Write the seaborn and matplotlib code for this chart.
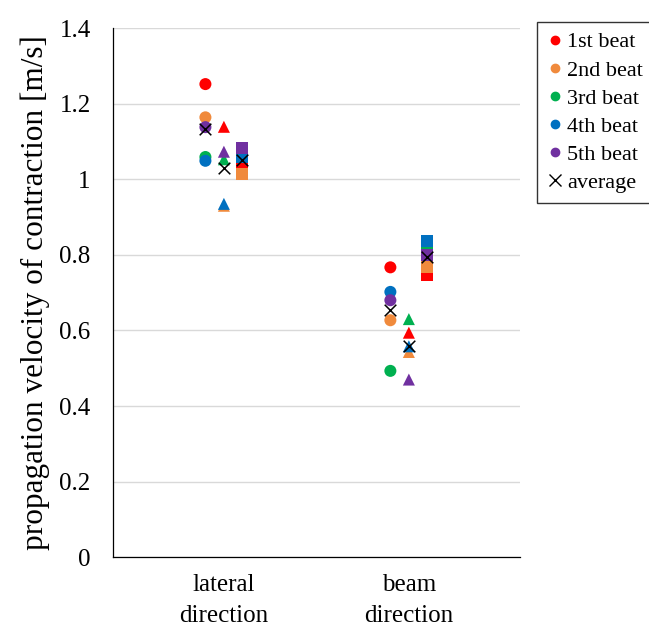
import matplotlib
matplotlib.use("Agg")
import matplotlib.pyplot as plt
import seaborn as sns
import pandas as pd
from matplotlib.lines import Line2D

# ---- data ----
categories = ["lateral\ndirection", "beam\ndirection"]
groups = ["circle", "triangle", "square"]          # three measurements per direction
beats = ["1st beat", "2nd beat", "3rd beat", "4th beat", "5th beat"]

# values ordered [lateral circle, lateral triangle, lateral square, beam circle, beam triangle, beam square]
beat1 = [1.252, 1.139, 1.035, 0.767, 0.594, 0.746]
beat2 = [1.164, 0.930, 1.013, 0.627, 0.543, 0.768]
beat3 = [1.059, 1.053, 1.068, 0.493, 0.630, 0.817]
beat4 = [1.049, 0.935, 1.060, 0.702, 0.558, 0.837]
beat5 = [1.138, 1.073, 1.084, 0.680, 0.470, 0.799]
average = [1.133, 1.029, 1.052, 0.654, 0.558, 0.795]

colors = ["#FF0000", "#F08A3C", "#00B050", "#0070C0", "#7030A0"]
markers = {"circle": "o", "triangle": "^", "square": "s"}
offsets = {"circle": -0.1, "triangle": 0.0, "square": 0.1}

rows = []
for beat, vals in zip(beats, [beat1, beat2, beat3, beat4, beat5]):
    i = 0
    for ci, cat in enumerate(categories):
        for g in groups:
            rows.append({"beat": beat, "cat": ci, "group": g,
                         "x": ci + offsets[g], "v": vals[i]})
            i += 1
df = pd.DataFrame(rows)

avg_rows = []
i = 0
for ci, cat in enumerate(categories):
    for g in groups:
        avg_rows.append({"x": ci + offsets[g], "v": average[i]})
        i += 1
dfa = pd.DataFrame(avg_rows)

# ---- plot ----
sns.set_style("white")
plt.rcParams["font.family"] = ["Liberation Serif", "DejaVu Serif"]
plt.rcParams["text.color"] = "black"
plt.rcParams["axes.labelcolor"] = "black"
plt.rcParams["xtick.color"] = "black"
plt.rcParams["ytick.color"] = "black"

fig = plt.figure(figsize=(6.49, 6.26), dpi=100)
ax = fig.add_axes([0.174, 0.110, 0.627, 0.845])

palette = dict(zip(beats, colors))
sns.scatterplot(data=df, x="x", y="v", hue="beat", style="group",
                markers=markers, palette=palette, hue_order=beats,
                style_order=groups, s=75, linewidth=0, ax=ax, legend=False,
                zorder=3)
sns.scatterplot(data=dfa, x="x", y="v", marker="x", color="black",
                s=70, linewidth=1.1, ax=ax, legend=False, zorder=4)

ax.set_xlim(-0.6, 1.6)
ax.set_ylim(0, 1.4)
ax.set_yticks([0, 0.2, 0.4, 0.6, 0.8, 1.0, 1.2, 1.4])
ax.set_yticklabels(["0", "0.2", "0.4", "0.6", "0.8", "1", "1.2", "1.4"])
ax.set_xticks([0, 1])
ax.set_xticklabels(categories, linespacing=1.55)
ax.tick_params(axis="x", length=0, labelsize=18, pad=12, labelcolor="black")
ax.tick_params(axis="y", length=4, width=0.8, direction="out",
               labelsize=18, pad=12, color="black", labelcolor="black")
ax.yaxis.grid(True, color="#D9D9D9", linewidth=1)
ax.set_axisbelow(True)
for s in ["top", "right"]:
    ax.spines[s].set_visible(False)
for s in ["left", "bottom"]:
    ax.spines[s].set_color("black")
    ax.spines[s].set_linewidth(0.9)
ax.set_xlabel("")
ax.set_ylabel("propagation velocity of contraction [m/s]", fontsize=22.5,
              labelpad=7, color="black")

handles = [Line2D([], [], marker="o", linestyle="none", color=c,
                  markersize=6) for c in colors]
handles.append(Line2D([], [], marker="x", linestyle="none", color="black",
                      markersize=8, markeredgewidth=1))
leg = fig.legend(handles, beats + ["average"], loc="upper left",
                 bbox_to_anchor=(0.827, 0.965), fontsize=16,
                 frameon=True, fancybox=False, edgecolor="black",
                 handlelength=0.7, handletextpad=0.22, labelspacing=0.34,
                 borderpad=0.45, borderaxespad=0)
leg.get_frame().set_linewidth(1.0)
for t in leg.get_texts():
    t.set_color("black")

fig.savefig("out.png", dpi=100)
